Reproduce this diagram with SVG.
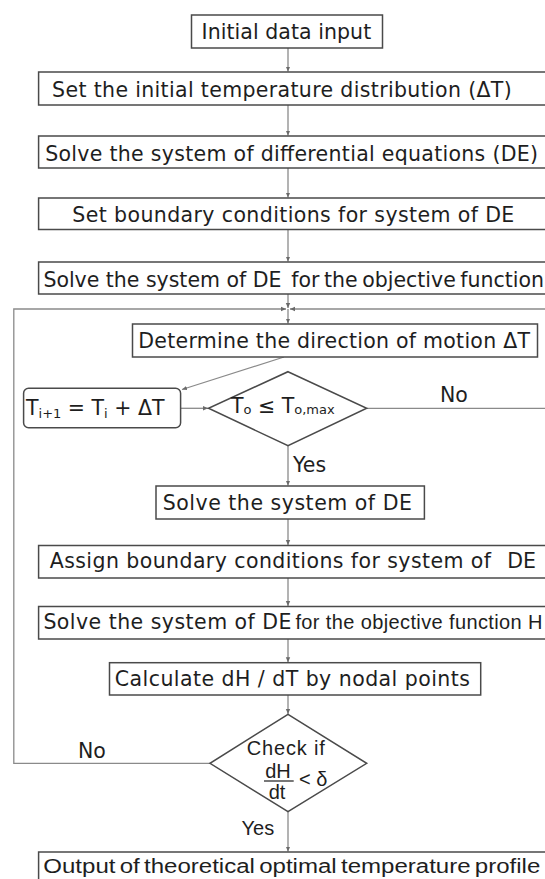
<svg xmlns="http://www.w3.org/2000/svg" width="545" height="879" viewBox="0 0 545 879">
<style>
  .box{fill:#fff;stroke:#4a4a4a;stroke-width:1.5}
  .con{fill:none;stroke:#8a8a8a;stroke-width:1.3}
  .t{font-family:"DejaVu Sans",Verdana,sans-serif;font-size:20.5px;fill:#1e1e1e}
  .n{font-family:"Liberation Sans",Arial,sans-serif;font-size:20px;fill:#1e1e1e}
  .sub{font-size:13px}
</style>
<defs>
  <marker id="ah" markerUnits="userSpaceOnUse" markerWidth="6" markerHeight="6" refX="5" refY="3" orient="auto">
    <path d="M0,0.8 L5,3 L0,5.2 Z" fill="#6a6a6a"/>
  </marker>
</defs>
<rect width="545" height="879" fill="#fff"/>

<g id="connectors">
  <line class="con" x1="288" y1="48" x2="288" y2="71.5" marker-end="url(#ah)"/>
  <line class="con" x1="288" y1="105" x2="288" y2="135.5" marker-end="url(#ah)"/>
  <line class="con" x1="288" y1="168" x2="288" y2="197.5" marker-end="url(#ah)"/>
  <line class="con" x1="288" y1="229.5" x2="288" y2="261.5" marker-end="url(#ah)"/>
  <line class="con" x1="288" y1="294" x2="288" y2="308" marker-end="url(#ah)"/>
  <line class="con" x1="288" y1="309" x2="288" y2="323.5" marker-end="url(#ah)"/>
  <path class="con" d="M210,763.3 H13.8 V309 H286" marker-end="url(#ah)"/>
  <path class="con" d="M366.7,408.3 H552 V309 H290" marker-end="url(#ah)"/>
  <line class="con" x1="284" y1="357" x2="182" y2="389.5" marker-end="url(#ah)"/>
  <line class="con" x1="181" y1="408.3" x2="208" y2="408.3" marker-end="url(#ah)"/>
  <line class="con" x1="288" y1="445.7" x2="288" y2="485.5" marker-end="url(#ah)"/>
  <line class="con" x1="288" y1="519" x2="288" y2="545" marker-end="url(#ah)"/>
  <line class="con" x1="288" y1="578" x2="288" y2="606" marker-end="url(#ah)"/>
  <line class="con" x1="288" y1="639" x2="288" y2="662.2" marker-end="url(#ah)"/>
  <line class="con" x1="288" y1="695" x2="288" y2="714" marker-end="url(#ah)"/>
  <line class="con" x1="288" y1="811.7" x2="288" y2="851.5" marker-end="url(#ah)"/>
  <text class="t" x="440" y="401.7" font-size="20">No</text>
  <text class="t" x="293" y="471.7" font-size="20">Yes</text>
  <text class="t" x="78" y="758.3" font-size="20">No</text>
  <text class="n" x="241.6" y="835" font-size="21">Yes</text>
</g>

<g id="n-initial">
  <rect class="box" x="191.5" y="15" width="191" height="33"/>
  <text class="t" x="201.6" y="38.5" textLength="169.6">Initial data input</text>
</g>
<g id="n-set-initial">
  <rect class="box" x="38.6" y="72" width="530" height="33"/>
  <text class="t" x="52.1" y="97" textLength="459.6">Set the initial temperature distribution (ΔT)</text>
</g>
<g id="n-solve-diff">
  <rect class="box" x="38.6" y="136" width="530" height="32"/>
  <text class="t" x="45.2" y="161" textLength="492.8">Solve the system of differential equations (DE)</text>
</g>
<g id="n-set-boundary">
  <rect class="box" x="38.6" y="198" width="530" height="31.5"/>
  <text class="t" x="72.3" y="221.7" textLength="442">Set boundary conditions for system of DE</text>
</g>
<g id="n-solve-objective">
  <rect class="box" x="38.6" y="262" width="530" height="32"/>
  <text class="t" x="43.4" y="286.5"><tspan textLength="238">Solve the system of DE</tspan><tspan x="291.3" word-spacing="-2">for the objective function</tspan></text>
</g>
<g id="n-determine">
  <rect class="box" x="132.5" y="324" width="405" height="33"/>
  <text class="t" x="138.3" y="348.3" textLength="391.7">Determine the direction of motion ΔT</text>
</g>
<g id="n-update">
  <rect class="box" x="23.6" y="388.3" width="157" height="39.4" rx="5"/>
  <text class="t" x="26" y="415">T<tspan class="sub" dy="3">i+1</tspan><tspan dy="-3"> = T</tspan><tspan class="sub" dy="3">i</tspan><tspan dy="-3"> + ΔT</tspan></text>
</g>
<g id="n-check-temp">
  <polygon class="box" points="288,371.7 366.7,408.3 288,445.7 208.5,408.3"/>
  <text class="t" x="231" y="413.3" font-size="19">T<tspan class="sub" dy="1">o</tspan><tspan dy="-1"> ≤ T</tspan><tspan class="sub" dy="1">o,max</tspan></text>
</g>
<g id="n-solve-de">
  <rect class="box" x="156" y="486" width="268.4" height="33"/>
  <text class="t" x="162.7" y="510" textLength="249.2">Solve the system of DE</text>
</g>
<g id="n-assign">
  <rect class="box" x="38.6" y="545.5" width="530" height="32.5"/>
  <text class="t" x="49.7" y="567.5"><tspan textLength="441.3">Assign boundary conditions for system of</tspan><tspan x="507.3">DE</tspan></text>
</g>
<g id="n-solve-h">
  <rect class="box" x="38.6" y="606.5" width="530" height="32.5"/>
  <text class="t" x="43.4" y="629"><tspan textLength="248">Solve the system of DE</tspan></text>
  <text class="n" x="295.4" y="629" textLength="247" font-size="20.5">for the objective function H</text>
</g>
<g id="n-calculate">
  <rect class="box" x="109.5" y="662.7" width="371.2" height="32.3"/>
  <text class="t" x="114.7" y="686" textLength="355.3">Calculate dH / dT by nodal points</text>
</g>
<g id="n-check-grad">
  <polygon class="box" points="288,714.3 366.7,763.3 288,811.7 210,763.3"/>
  <text class="n" x="246.8" y="755" textLength="78">Check if</text>
  <text class="n" x="278" y="778.3" text-anchor="middle">dH</text>
  <line x1="264" y1="781" x2="293.7" y2="781" stroke="#1e1e1e" stroke-width="1.2"/>
  <text class="n" x="277" y="798.5" text-anchor="middle">dt</text>
  <text class="n" x="299" y="785.5">&lt; δ</text>
</g>
<g id="n-output">
  <rect class="box" x="38.6" y="852" width="530" height="40"/>
  <text class="n" x="43.3" y="873.3" font-size="23" word-spacing="-2" textLength="497" lengthAdjust="spacingAndGlyphs">Output of theoretical optimal temperature profile</text>
</g>
</svg>
